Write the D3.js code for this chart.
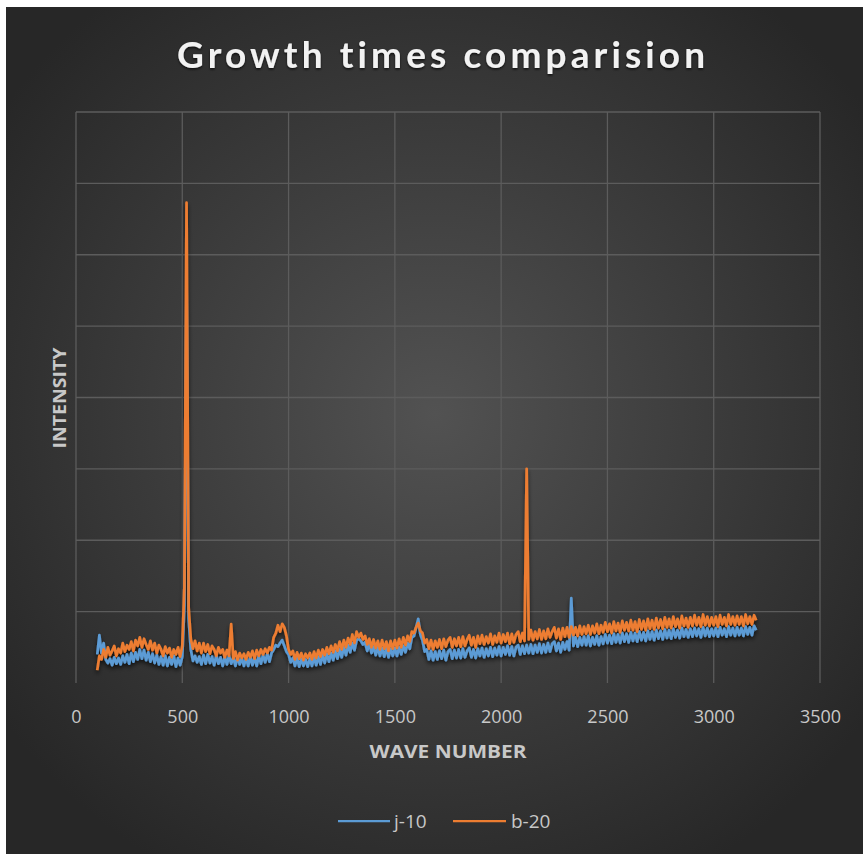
<!DOCTYPE html>
<html>
<head>
<meta charset="utf-8">
<script src="https://cdn.jsdelivr.net/npm/d3@7"></script>
<style>
  html, body { margin: 0; padding: 0; background: #ffffff; }
  svg { display: block; }
  text { font-variant-ligatures: none; font-feature-settings: "liga" 0, "clig" 0; }
</style>
</head>
<body>
<svg id="chart" width="865" height="854"></svg>
<script>
// Raman-style spectra sampled every 10 cm^-1 from 100 to 3200
const waveStart = 100;
const waveStep = 10;
const xTicks = [0, 500, 1000, 1500, 2000, 2500, 3000, 3500];
const yGrid = [0, 1000, 2000, 3000, 4000, 5000, 6000, 7000, 8000];
const seriesNames = ["j-10", "b-20"];
const seriesColors = ["#5B9BD5", "#ED7D31"];

const j10 = [
  400, 670, 420, 560, 330, 280, 340, 250, 360, 270,
  350, 260, 380, 290, 400, 270, 420, 300, 430, 330,
  470, 340, 460, 320, 430, 300, 410, 280, 390, 260,
  370, 250, 380, 240, 360, 260, 380, 230, 350, 250,
  370, 1100, 5800, 900, 470, 310, 380, 290, 370, 260,
  390, 270, 400, 280, 370, 250, 390, 270, 360, 240,
  370, 260, 380, 270, 360, 240, 370, 260, 350, 240,
  350, 240, 370, 250, 360, 240, 380, 270, 390, 290,
  410, 300, 420, 470, 530, 510, 560, 600, 520, 440,
  400, 290, 350, 240, 350, 230, 340, 240, 330, 230,
  340, 240, 360, 250, 370, 260, 390, 280, 410, 300,
  420, 320, 450, 340, 470, 360, 500, 390, 530, 430,
  560, 460, 600, 620, 590, 540, 570, 450, 550, 420,
  510, 390, 500, 380, 490, 370, 490, 360, 480, 380,
  490, 380, 500, 400, 520, 430, 560, 480, 640, 660,
  780, 900, 680, 600, 440, 470, 330, 450, 320, 440,
  330, 450, 340, 460, 320, 440, 470, 340, 460, 350,
  470, 350, 480, 360, 450, 490, 360, 470, 350, 480,
  380, 490, 360, 480, 380, 500, 370, 490, 390, 510,
  380, 500, 400, 520, 390, 510, 380, 500, 530, 400,
  520, 410, 530, 420, 540, 410, 530, 430, 550, 420,
  540, 430, 560, 440, 550, 580, 450, 560, 430, 570,
  470, 580, 460, 1190, 520, 640, 510, 640, 530, 650,
  530, 660, 520, 640, 540, 660, 530, 650, 550, 680,
  560, 670, 550, 690, 570, 680, 560, 700, 580, 690,
  570, 710, 590, 700, 580, 720, 600, 710, 590, 730,
  610, 720, 600, 740, 620, 730, 610, 750, 630, 740,
  620, 760, 640, 740, 630, 770, 650, 750, 640, 760,
  650, 770, 660, 760, 640, 780, 660, 770, 650, 760,
  660, 770, 650, 780, 670, 760, 650, 790, 670, 770,
  660, 780, 670, 770, 660, 790, 680, 780, 670, 800,
  740
];

const b20 = [
  180, 380, 330, 470, 360, 500, 390, 450, 520, 380,
  480, 420, 560, 440, 530, 470, 580, 450, 600, 520,
  640, 500, 620, 540, 470, 590, 460, 560, 420, 530,
  470, 380, 510, 420, 490, 360, 470, 400, 500, 370,
  520, 1350, 6730, 1050, 620, 480, 590, 450, 560, 420,
  560, 440, 540, 410, 520, 470, 380, 500, 420, 470,
  360, 460, 380, 826, 340, 440, 320, 420, 350, 410,
  330, 430, 360, 450, 340, 460, 380, 470, 400, 480,
  420, 500, 460, 640, 700, 810, 720, 830, 780, 660,
  470, 400, 450, 330, 430, 340, 420, 320, 410, 350,
  420, 330, 440, 350, 460, 370, 470, 390, 500, 410,
  520, 430, 540, 450, 580, 470, 600, 500, 630, 540,
  680, 560, 720, 640, 700, 610, 660, 540, 620, 500,
  610, 490, 590, 470, 600, 480, 580, 450, 590, 480,
  600, 490, 620, 500, 640, 530, 660, 580, 720, 700,
  780, 840, 730, 700, 560, 610, 480, 600, 470, 590,
  500, 610, 480, 620, 510, 600, 640, 500, 620, 520,
  640, 510, 650, 520, 610, 670, 530, 640, 500, 660,
  550, 670, 540, 650, 560, 690, 540, 660, 570, 700,
  560, 680, 580, 700, 550, 690, 570, 680, 720, 580,
  700, 590, 3000, 610, 740, 600, 720, 620, 750, 610,
  730, 620, 760, 640, 720, 780, 630, 760, 610, 770,
  650, 780, 640, 790, 670, 780, 660, 800, 680, 790,
  690, 810, 680, 800, 700, 830, 690, 810, 710, 850,
  720, 830, 700, 860, 730, 840, 710, 870, 740, 850,
  730, 880, 740, 860, 720, 890, 750, 870, 740, 900,
  760, 880, 750, 910, 770, 890, 760, 920, 780, 900,
  770, 930, 790, 900, 770, 940, 800, 910, 780, 920,
  800, 950, 810, 920, 790, 960, 810, 930, 800, 920,
  810, 930, 790, 950, 820, 920, 800, 960, 820, 930,
  810, 940, 820, 930, 800, 960, 830, 930, 820, 950,
  880
];

const svg = d3.select("#chart");
const frame = { x: 6, y: 7, w: 857, h: 847 };
const plot = { left: 76, right: 820, top: 112, bottom: 683 };

const defs = svg.append("defs");
const bg = defs.append("radialGradient")
  .attr("id", "bgGrad")
  .attr("cx", "50%").attr("cy", "48%").attr("r", "62%");
bg.append("stop").attr("offset", "0%").attr("stop-color", "#525252");
bg.append("stop").attr("offset", "100%").attr("stop-color", "#272727");

const shadow = defs.append("filter")
  .attr("id", "lineShadow")
  .attr("x", "-5%").attr("y", "-5%").attr("width", "110%").attr("height", "115%");
shadow.append("feDropShadow")
  .attr("dx", 0).attr("dy", 3).attr("stdDeviation", 2)
  .attr("flood-color", "#000").attr("flood-opacity", 0.65);

const textShadow = defs.append("filter").attr("id", "textShadow");
textShadow.append("feDropShadow")
  .attr("dx", 0).attr("dy", 1.5).attr("stdDeviation", 1.2)
  .attr("flood-color", "#000").attr("flood-opacity", 0.7);

svg.append("rect")
  .attr("x", frame.x).attr("y", frame.y)
  .attr("width", frame.w).attr("height", frame.h)
  .attr("fill", "url(#bgGrad)");

const x = d3.scaleLinear().domain([0, 3500]).range([plot.left, plot.right]);
const y = d3.scaleLinear().domain([0, 8000]).range([plot.bottom, plot.top]);

// gridlines
const grid = svg.append("g").attr("class", "grid");
grid.selectAll("line.v")
  .data(xTicks)
  .join("line")
  .attr("class", "v")
  .attr("x1", d => x(d)).attr("x2", d => x(d))
  .attr("y1", plot.top).attr("y2", plot.bottom)
  .attr("stroke", "#5c5c5c").attr("stroke-width", 1.3);
grid.selectAll("line.h")
  .data(yGrid.slice(1))
  .join("line")
  .attr("class", "h")
  .attr("x1", plot.left).attr("x2", plot.right)
  .attr("y1", d => y(d)).attr("y2", d => y(d))
  .attr("stroke", "#5c5c5c").attr("stroke-width", 1.3);

// x axis
const xAxis = d3.axisBottom(x)
  .tickValues(xTicks)
  .tickFormat(d3.format("d"))
  .tickSize(0).tickPadding(0);
const gx = svg.append("g")
  .attr("transform", `translate(0,${plot.bottom})`)
  .call(xAxis);
gx.select(".domain")
  .attr("stroke", "#7a7a7a").attr("stroke-width", 2.2)
  .attr("filter", "url(#lineShadow)");
gx.selectAll(".tick text")
  .attr("y", 40)
  .attr("dy", 0)
  .attr("fill", "#c8c8c8")
  .attr("font-family", "'Open Sans', sans-serif")
  .attr("font-size", 18);

// series
const line = d3.line()
  .x((d, i) => x(waveStart + i * waveStep))
  .y(d => y(d));

const seriesData = [j10, b20];
svg.append("g")
  .attr("filter", "url(#lineShadow)")
  .selectAll("path")
  .data(seriesData)
  .join("path")
  .attr("d", d => line(d))
  .attr("fill", "none")
  .attr("stroke", (d, i) => seriesColors[i])
  .attr("stroke-width", 2.7)
  .attr("stroke-linejoin", "round");

// titles
svg.append("text")
  .attr("x", 441).attr("y", 68)
  .attr("text-anchor", "middle")
  .attr("font-family", "Lato, 'Open Sans', sans-serif")
  .attr("font-weight", "bold")
  .attr("font-size", 37)
  .attr("textLength", 528)
  .attr("lengthAdjust", "spacing")
  .attr("fill", "#f2f2f2")
  .attr("filter", "url(#textShadow)")
  .text("Growth times comparision");

svg.append("text")
  .attr("x", 448).attr("y", 758)
  .attr("text-anchor", "middle")
  .attr("font-family", "'Open Sans', sans-serif")
  .attr("font-weight", "bold")
  .attr("font-size", 18)
  .attr("textLength", 157)
  .attr("lengthAdjust", "spacingAndGlyphs")
  .attr("fill", "#c8c8c8")
  .text("WAVE NUMBER");

svg.append("text")
  .attr("transform", "translate(66,398) rotate(-90)")
  .attr("text-anchor", "middle")
  .attr("font-family", "'Open Sans', sans-serif")
  .attr("font-weight", "bold")
  .attr("font-size", 18)
  .attr("textLength", 101)
  .attr("lengthAdjust", "spacingAndGlyphs")
  .attr("fill", "#c8c8c8")
  .text("INTENSITY");

// legend
const legendItems = [
  { x1: 338, x2: 390, tx: 394 },
  { x1: 453, x2: 506, tx: 511 }
];
const lg = svg.append("g");
lg.selectAll("line")
  .data(seriesNames)
  .join("line")
  .attr("x1", (d, i) => legendItems[i].x1)
  .attr("x2", (d, i) => legendItems[i].x2)
  .attr("y1", 821).attr("y2", 821)
  .attr("stroke", (d, i) => seriesColors[i])
  .attr("stroke-width", 2.25);
lg.selectAll("text")
  .data(seriesNames)
  .join("text")
  .attr("x", (d, i) => legendItems[i].tx)
  .attr("y", 828)
  .attr("font-family", "'Open Sans', sans-serif")
  .attr("font-size", 19)
  .attr("fill", "#c8c8c8")
  .text(d => d);
</script>
</body>
</html>
